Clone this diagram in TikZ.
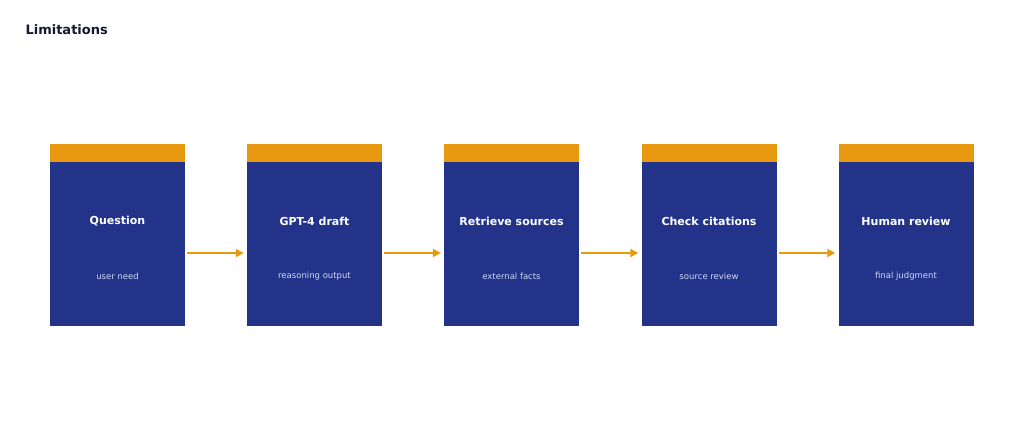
\documentclass[tikz,border=0pt]{standalone}
\usepackage{fontspec}
\setmainfont{DejaVu Sans}
\usetikzlibrary{arrows.meta}
\definecolor{navy}{HTML}{23338A}
\definecolor{amber}{HTML}{E8990F}
\definecolor{sub}{HTML}{D2D8F5}
\definecolor{ttl}{HTML}{141A2E}
\begin{document}
\begin{tikzpicture}[x=1pt,y=-1pt,
  body/.style={fill=navy,draw=none,minimum width=135pt,minimum height=164pt,inner sep=0pt},
  topbar/.style={fill=amber,draw=none,minimum width=135pt,minimum height=18pt,inner sep=0pt},
  head/.style={text=white,font=\bfseries\fontsize{11}{13}\selectfont},
  subt/.style={text=sub,font=\fontsize{8.5}{10}\selectfont},
  arr/.style={draw=amber,line width=2pt,-{Triangle[length=8pt,width=8pt]}}]
\useasboundingbox (0,0) rectangle (1024,441);
\node[anchor=west,text=ttl,font=\bfseries\fontsize{13}{15}\selectfont] (title) at (22,30) {Limitations};
\foreach \i/\x/\a/\b in {1/117.5/Question/user need,2/314.5/GPT-4 draft/reasoning output,3/511.5/Retrieve sources/external facts,4/709/Check citations/source review,5/906/Human review/final judgment}{
  \node[body] (b\i) at (\x,244) {};
  \node[topbar] (c\i) at (\x,153) {};
  \node[head] (h\i) at (\x,221) {\a};
  \node[subt] (s\i) at (\x,276) {\b};
}
\foreach \i/\j in {1/2,2/3,3/4,4/5}{
  \draw[arr] ([xshift=2pt,yshift=-9pt]b\i.east) -- ([xshift=-3pt,yshift=-9pt]b\j.west);
}
\end{tikzpicture}
\end{document}
